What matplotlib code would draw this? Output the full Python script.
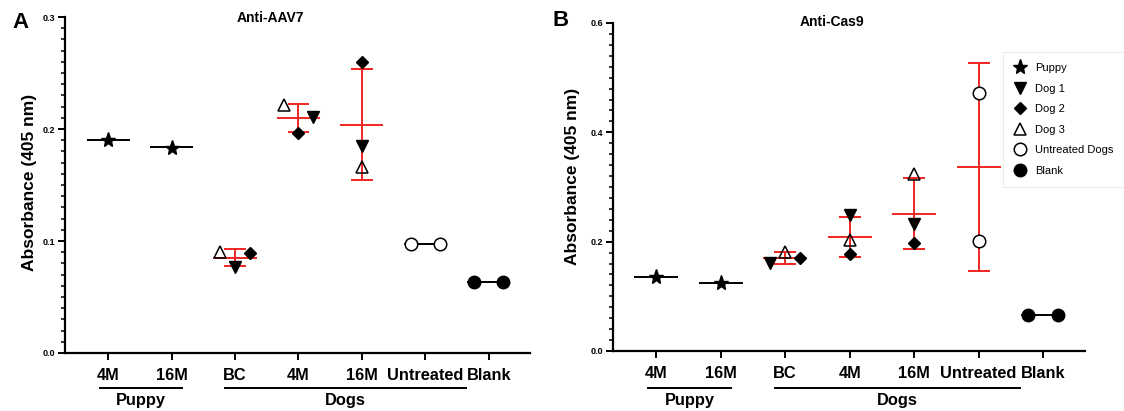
import matplotlib
matplotlib.use("Agg")
import matplotlib.pyplot as plt
from matplotlib.lines import Line2D
import matplotlib.transforms as mtransforms
import numpy as np

plt.rcParams['font.family'] = ['Liberation Sans', 'DejaVu Sans']

# ---------------- data ----------------
categories = ["4M", "16M", "BC", "4M", "16M", "Untreated", "Blank"]
group_names = ["Puppy", "Dogs"]

# Panel A: Anti-AAV7
aav7_puppy = [0.190, 0.183]            # 4M, 16M
aav7_dog1 = [0.077, 0.211, 0.185]      # BC, 4M, 16M
aav7_dog2 = [0.089, 0.196, 0.260]
aav7_dog3 = [0.090, 0.221, 0.166]
aav7_untreated = [0.097, 0.097]
aav7_blank = [0.063, 0.063]
aav7_mean = [0.190, 0.184, 0.085, 0.210, 0.204, 0.097, 0.063]
aav7_sd = [0.0, 0.0, 0.0075, 0.0125, 0.0495, 0.0, 0.0]

# Panel B: Anti-Cas9
cas9_puppy = [0.136, 0.125]
cas9_dog1 = [0.161, 0.249, 0.232]
cas9_dog2 = [0.170, 0.178, 0.198]
cas9_dog3 = [0.181, 0.203, 0.323]
cas9_untreated = [0.472, 0.202]
cas9_blank = [0.066, 0.066]
cas9_mean = [0.136, 0.125, 0.170, 0.2085, 0.251, 0.3365, 0.066]
cas9_sd = [0.0, 0.0, 0.011, 0.0365, 0.065, 0.190, 0.0]

# ---------------- layout / style ----------------
W, H = 1124, 411
RED = '#f02424'
DX = 0.23          # horizontal jitter step
MEAN_HW = 0.34     # half width of mean line
CAP_HW = 0.17      # half width of error caps

fig = plt.figure(figsize=(W / 100, H / 100), dpi=100)

def fx(px):
    return px / W

def fy(py):
    return 1 - py / H

axA = fig.add_axes([fx(65), fy(353), fx(530) - fx(65), fy(17) - fy(353)])
axB = fig.add_axes([fx(613), fy(351), fx(1085) - fx(613), fy(23) - fy(351)])

ms = 9
mk = {
    'puppy': dict(marker='*', color='black', markersize=ms + 2, linestyle='none'),
    'dog1': dict(marker='v', color='black', markersize=ms, linestyle='none'),
    'dog2': dict(marker='D', color='black', markersize=ms - 2.5, linestyle='none'),
    'dog3': dict(marker='^', color='black', markerfacecolor='none', markersize=ms,
                 markeredgewidth=1.1, linestyle='none'),
    'untreated': dict(marker='o', color='black', markerfacecolor='white', markersize=ms,
                      markeredgewidth=1.1, linestyle='none'),
    'blank': dict(marker='o', color='black', markersize=ms, linestyle='none'),
}


def draw_panel(ax, puppy, dog1, dog2, dog3, untreated, blank, mean, sd,
               offsets, mean_colors, ymax, minor_step, title, title_px, letter, letter_px,
               ylabel_px, xlims, axis_bottom_px, axis_h_px):
    xs = np.arange(1, len(categories) + 1)
    # means and error bars
    for i, (m, s) in enumerate(zip(mean, sd)):
        c = mean_colors[i]
        ax.plot([xs[i] - MEAN_HW, xs[i] + MEAN_HW], [m, m], color=c, lw=1.4, zorder=2,
                solid_capstyle='butt')
        if s > 0:
            ax.plot([xs[i], xs[i]], [m - s, m + s], color=c, lw=1.4, zorder=2)
            for yy in (m - s, m + s):
                ax.plot([xs[i] - CAP_HW, xs[i] + CAP_HW], [yy, yy], color=c, lw=1.4,
                        zorder=2, solid_capstyle='butt')
    # points
    ax.plot(xs[0:2] + np.array(offsets['puppy']) * DX, puppy, zorder=3, **mk['puppy'])
    ax.plot(xs[2:5] + np.array(offsets['dog1']) * DX, dog1, zorder=3, **mk['dog1'])
    ax.plot(xs[2:5] + np.array(offsets['dog2']) * DX, dog2, zorder=3, **mk['dog2'])
    ax.plot(xs[2:5] + np.array(offsets['dog3']) * DX, dog3, zorder=3, **mk['dog3'])
    ax.plot(xs[5] + np.array(offsets['untreated']) * DX, untreated, zorder=3, **mk['untreated'])
    ax.plot(xs[6] + np.array(offsets['blank']) * DX, blank, zorder=3, **mk['blank'])

    ax.set_xlim(*xlims)
    ax.set_ylim(0, ymax)
    ax.set_xticks(xs)
    ax.set_xticklabels(categories, fontsize=11.8, fontweight='bold')
    major = ymax / 3
    ax.set_yticks(np.round(np.arange(0, ymax + 1e-9, major), 3))
    ax.set_yticklabels([f"{v:.1f}" for v in np.arange(0, ymax + 1e-9, major)],
                       fontsize=6.5, fontweight='bold')
    ax.set_yticks(np.arange(0, ymax + 1e-9, minor_step), minor=True)
    for sp in ('top', 'right'):
        ax.spines[sp].set_visible(False)
    for sp in ('left', 'bottom'):
        ax.spines[sp].set_linewidth(1.6)
    ax.tick_params(axis='both', which='major', length=5, width=1.4, pad=2)
    ax.tick_params(axis='x', which='major', pad=6)
    ax.tick_params(axis='y', which='minor', length=3, width=1.1)

    # group brackets
    trans = mtransforms.blended_transform_factory(ax.transData, ax.transAxes)
    line_y = -(388 - axis_bottom_px) / axis_h_px
    text_y = -(393 - axis_bottom_px) / axis_h_px
    brackets = [(0.87, 2.16, group_names[0]), (2.84, 6.64, group_names[1])]
    for x0, x1, name in brackets:
        ax.add_line(Line2D([x0, x1], [line_y, line_y], transform=trans, color='black',
                           lw=1.4, clip_on=False))
        ax.text((x0 + x1) / 2, text_y, name, transform=trans, ha='center', va='top',
                fontsize=11.8, fontweight='bold')

    fig.text(fx(title_px[0]), fy(title_px[1]), title, ha='center', va='center',
             fontsize=10, fontweight='bold')
    fig.text(fx(letter_px[0]), fy(letter_px[1]), letter, ha='center', va='center',
             fontsize=16, fontweight='bold')
    fig.text(fx(ylabel_px[0]), fy(ylabel_px[1]), "Absorbance (405 nm)", rotation=90,
             ha='center', va='center', fontsize=12.5, fontweight='bold')


draw_panel(axA, aav7_puppy, aav7_dog1, aav7_dog2, aav7_dog3, aav7_untreated, aav7_blank,
           aav7_mean, aav7_sd,
           offsets=dict(puppy=[0, 0], dog1=[0, 1, 0], dog2=[1, 0, 0], dog3=[-1, -1, 0],
                        untreated=[-1, 1], blank=[-1, 1]),
           mean_colors=['black', 'black', RED, RED, RED, 'black', 'black'],
           ymax=0.3, minor_step=0.01, title="Anti-AAV7", title_px=(270, 18),
           letter="A", letter_px=(20, 22), ylabel_px=(30, 182), xlims=(0.32, 7.65),
           axis_bottom_px=353, axis_h_px=336)

draw_panel(axB, cas9_puppy, cas9_dog1, cas9_dog2, cas9_dog3, cas9_untreated, cas9_blank,
           cas9_mean, cas9_sd,
           offsets=dict(puppy=[0, 0], dog1=[-1, 0, 0], dog2=[1, 0, 0], dog3=[0, 0, 0],
                        untreated=[0, 0], blank=[-1, 1]),
           mean_colors=['black', 'black', RED, RED, RED, RED, 'black'],
           ymax=0.6, minor_step=0.02, title="Anti-Cas9", title_px=(832, 22),
           letter="B", letter_px=(561, 21), ylabel_px=(572, 176), xlims=(0.33, 7.65),
           axis_bottom_px=351, axis_h_px=328)

# legend
handles = [
    Line2D([], [], **mk['puppy']),
    Line2D([], [], **mk['dog1']),
    Line2D([], [], **mk['dog2']),
    Line2D([], [], **mk['dog3']),
    Line2D([], [], **mk['untreated']),
    Line2D([], [], **mk['blank']),
]
labels = ["Puppy", "Dog 1", "Dog 2", "Dog 3", "Untreated Dogs", "Blank"]
leg = fig.legend(handles, labels, loc='upper left', bbox_to_anchor=(fx(1003), fy(52)),
                 fontsize=8, frameon=True, fancybox=False, edgecolor='#e8e8e8',
                 handlelength=1.0, handletextpad=0.9, labelspacing=0.95,
                 borderpad=1.0, borderaxespad=0)
leg.get_frame().set_linewidth(0.8)

fig.savefig("out.png", dpi=100)
